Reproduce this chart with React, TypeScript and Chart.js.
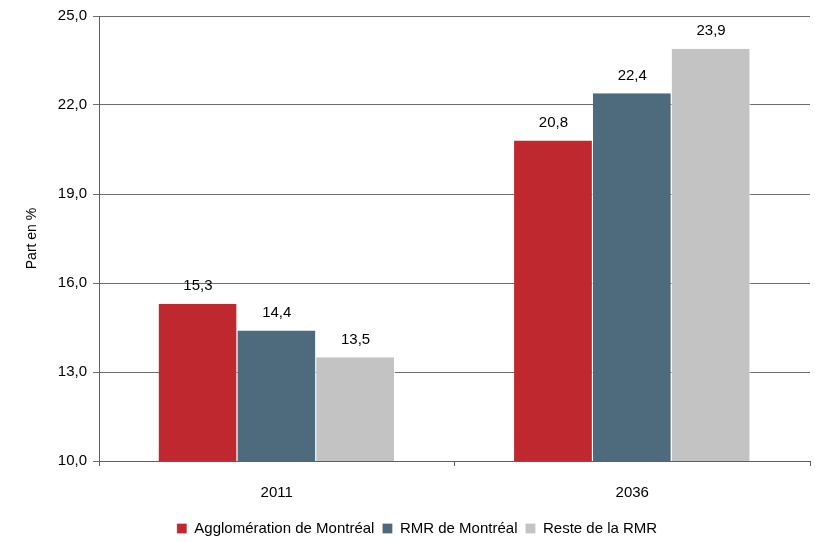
import React, { useEffect, useRef } from "react";
import { Chart, registerables } from "chart.js";

Chart.register(...registerables);

const categories = ["2011", "2036"];
const seriesNames = ["Agglomération de Montréal", "RMR de Montréal", "Reste de la RMR"];
const agglo = [15.3, 20.8];
const rmr = [14.4, 22.4];
const reste = [13.5, 23.9];
const colors = ["#C0282F", "#4E6B7D", "#C3C3C3"];
const yTicks = [10, 13, 16, 19, 22, 25];

const FONT = "'Liberation Sans', Arial, sans-serif";
const fmt = (v: number) => v.toFixed(1).replace(".", ",");

const labelPlugin = {
  id: "barLabels",
  afterDatasetsDraw(chart: any) {
    const ctx = chart.ctx;
    ctx.save();
    ctx.font = `15px ${FONT}`;
    ctx.fillStyle = "#000";
    ctx.textAlign = "center";
    ctx.textBaseline = "bottom";
    chart.data.datasets.forEach((ds: any, i: number) => {
      const meta = chart.getDatasetMeta(i);
      meta.data.forEach((bar: any, j: number) => {
        ctx.fillText(fmt(ds.data[j]), bar.x, bar.y - 10);
      });
    });
    ctx.restore();
  },
};

export default function App() {
  const ref = useRef<HTMLCanvasElement>(null);
  useEffect(() => {
    const data = [agglo, rmr, reste];
    const chart = new Chart(ref.current!, {
      type: "bar",
      data: {
        labels: categories,
        datasets: seriesNames.map((name, i) => ({
          label: name,
          data: data[i],
          backgroundColor: colors[i],
          borderColor: "#ffffff",
          borderWidth: { left: 0, right: 1, top: 0, bottom: 0 },
          borderSkipped: false,
          categoryPercentage: 0.665,
          barPercentage: 1,
        })),
      },
      options: {
        animation: false,
        responsive: false,
        maintainAspectRatio: false,
        layout: { padding: { top: 16, right: 5, left: 24, bottom: -4 } },
        plugins: {
          legend: {
            position: "bottom",
            labels: {
              boxWidth: 10,
              boxHeight: 10,
              padding: 8,
              font: { size: 15, family: FONT },
              color: "#000",
            },
          },
          tooltip: { enabled: false },
        },
        scales: {
          x: {
            grid: {
              drawOnChartArea: false,
              drawTicks: true,
              tickLength: 5,
              color: "#5f5f5f",
            },
            border: { color: "#5f5f5f", width: 1 },
            ticks: { font: { size: 15, family: FONT }, color: "#000", padding: 18 },
            afterFit: (s: any) => { s.height = 52; },
          },
          y: {
            min: 10,
            max: 25,
            afterBuildTicks: (s: any) => { s.ticks = yTicks.map((v) => ({ value: v })); },
            grid: { color: "#6e6e6e", tickLength: 6, drawTicks: true },
            border: { color: "#5f5f5f", width: 1 },
            ticks: {
              font: { size: 15, family: FONT },
              color: "#000",
              padding: 6,
              callback: (v: any) => fmt(Number(v)),
            },
            title: {
              display: true,
              text: "Part en %",
              font: { size: 14, family: FONT },
              color: "#000",
              padding: { top: 0, bottom: 4 },
            },
            afterFit: (s: any) => { s.width = 75; },
          },
        },
      },
      plugins: [labelPlugin],
    });
    return () => chart.destroy();
  }, []);
  return (
    <div style={{ position: "fixed", left: 0, top: 0, width: 815, height: 542, background: "#fff" }}>
      <canvas ref={ref} width={815} height={542} style={{ width: 815, height: 542, display: "block" }} />
    </div>
  );
}
